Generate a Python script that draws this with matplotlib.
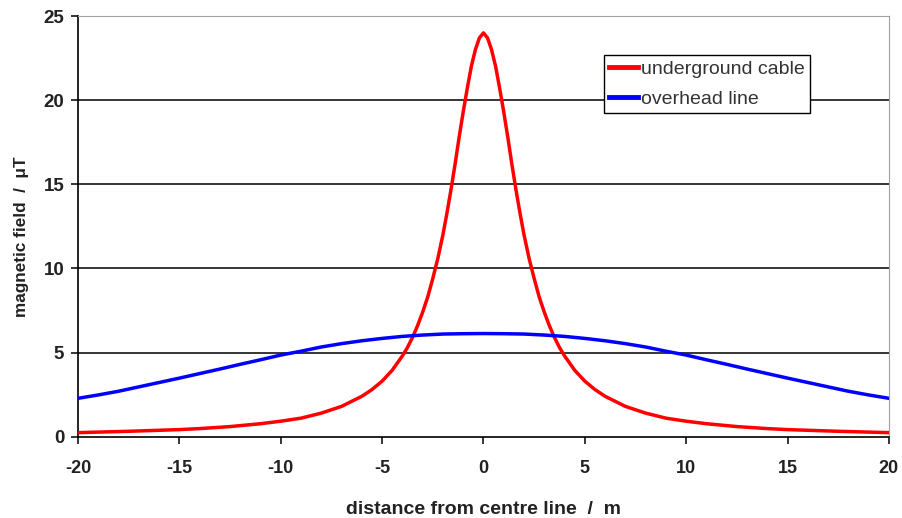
import matplotlib.pyplot as plt

# values
cable_x = [-20, -17.5, -15, -14, -12.5, -11, -10, -9, -8, -7, -6.5, -6, -5.5, -5, -4.5, -4,
           -3.75, -3.5, -3.25, -3, -2.75, -2.5, -2.25, -2, -1.8, -1.6, -1.4, -1.2, -1, -0.8,
           -0.6, -0.4, -0.2, 0,
           0.2, 0.4, 0.6, 0.8, 1, 1.2, 1.4, 1.6, 1.8, 2, 2.25, 2.5, 2.75, 3, 3.25, 3.5, 3.75,
           4, 4.5, 5, 5.5, 6, 6.5, 7, 8, 9, 10, 11, 12.5, 14, 15, 17.5, 20]
cable_y = [0.24, 0.32, 0.42, 0.48, 0.6, 0.77, 0.92, 1.1, 1.4, 1.8, 2.1, 2.4, 2.8, 3.3, 3.95, 4.8,
           5.3, 5.9, 6.6, 7.4, 8.3, 9.4, 10.6, 12.0, 13.3, 14.7, 16.2, 17.8, 19.3, 20.7,
           22.0, 23.0, 23.7, 24.0,
           23.7, 23.0, 22.0, 20.7, 19.3, 17.8, 16.2, 14.7, 13.3, 12.0, 10.6, 9.4, 8.3, 7.4, 6.6, 5.9, 5.3,
           4.8, 3.95, 3.3, 2.8, 2.4, 2.1, 1.8, 1.4, 1.1, 0.92, 0.77, 0.6, 0.48, 0.42, 0.32, 0.24]

overhead_x = [-20, -19, -18, -17, -16, -15, -14, -13, -12, -11, -10, -9, -8, -7, -6, -5, -4, -3,
              -2, -1, 0, 1, 2, 3, 4, 5, 6, 7, 8, 9, 10, 11, 12, 13, 14, 15, 16, 17, 18, 19, 20]
overhead_y = [2.28, 2.48, 2.7, 2.96, 3.22, 3.48, 3.75, 4.02, 4.3, 4.57, 4.85, 5.08, 5.33, 5.53,
              5.7, 5.84, 5.96, 6.04, 6.1, 6.12, 6.13, 6.12, 6.1, 6.04, 5.96, 5.84, 5.7, 5.53,
              5.33, 5.08, 4.85, 4.57, 4.3, 4.02, 3.75, 3.48, 3.22, 2.96, 2.7, 2.48, 2.28]

x_ticks = [-20, -15, -10, -5, 0, 5, 10, 15, 20]
y_ticks = [0, 5, 10, 15, 20, 25]

plt.rcParams['font.family'] = ['Liberation Sans', 'DejaVu Sans']

fig = plt.figure(figsize=(9.03, 5.18), dpi=100)
ax = fig.add_axes([0.0864, 0.157, 0.898, 0.812])

for yv in y_ticks[1:-1]:
    ax.axhline(yv, color='black', linewidth=1.1, zorder=1)

ax.plot(cable_x, cable_y, color='#ff0000', linewidth=2.5, label='underground cable',
        zorder=3, solid_joinstyle='round')
ax.plot(overhead_x, overhead_y, color='#0000ff', linewidth=2.5, label='overhead line',
        zorder=3, solid_joinstyle='round')

ax.set_xlim(-20, 20)
ax.set_ylim(0, 25)
ax.set_xticks(x_ticks)
ax.set_yticks(y_ticks)
ax.set_xticklabels([str(v) for v in x_ticks], fontsize=13, fontweight='bold', color='#222222')
ax.set_yticklabels([str(v) for v in y_ticks], fontsize=13.5, fontweight='bold', color='#222222')
ax.tick_params(direction='out', length=5, width=1.1, color='black')
ax.tick_params(axis='x', pad=11.5)
ax.tick_params(axis='y', pad=5)

ax.spines['left'].set_color('black')
ax.spines['bottom'].set_color('black')
ax.spines['left'].set_linewidth(1.2)
ax.spines['bottom'].set_linewidth(1.2)
ax.spines['top'].set_color('#a0a0a0')
ax.spines['right'].set_color('#a0a0a0')

ax.set_xlabel('distance from centre line  /  m', fontsize=14, fontweight='bold',
              color='#222222', labelpad=17.5)
ax.set_ylabel('magnetic field  /  \u03bcT', fontsize=12.3, fontweight='bold',
              color='#222222', labelpad=10, y=0.475)

leg = ax.legend(loc='upper left', bbox_to_anchor=(0.6486, 0.907), fontsize=14,
                frameon=True, fancybox=False, framealpha=1, edgecolor='black',
                handlelength=1.5, handletextpad=0.15, borderpad=0.25, labelspacing=0.66,
                borderaxespad=0)
leg.get_frame().set_linewidth(1.0)
for line in leg.get_lines():
    line.set_linewidth(3.5)
for txt in leg.get_texts():
    txt.set_color('#333333')
leg.set_zorder(5)

fig.savefig('out.png', dpi=100)
